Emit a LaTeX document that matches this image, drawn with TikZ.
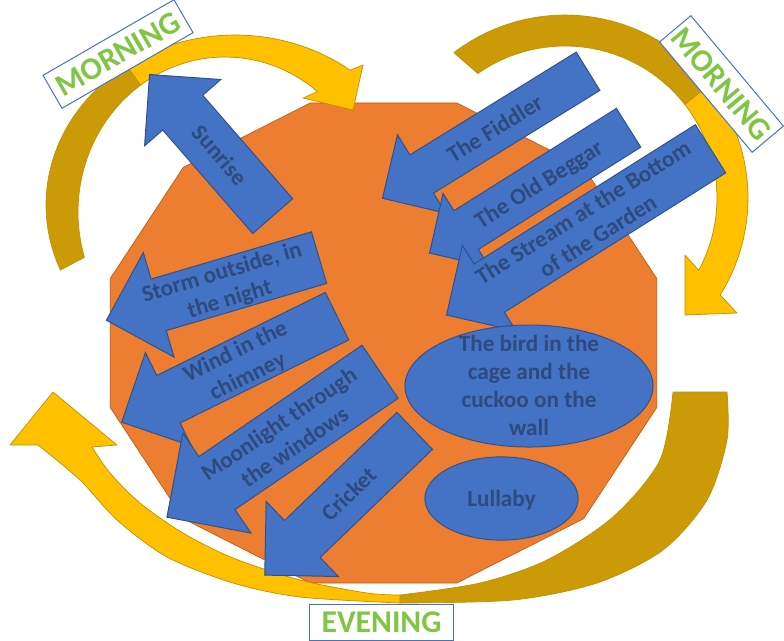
\documentclass[tikz,border=0pt]{standalone}
\usepackage{fontspec}
\setmainfont{Carlito}[BoldFont={Carlito Bold}]
\usetikzlibrary{shapes.arrows, shapes.geometric}

\definecolor{faceorange}{HTML}{ED7D31}
\definecolor{faceline}{HTML}{C55A11}
\definecolor{arrowblue}{HTML}{4472C4}
\definecolor{arrowline}{HTML}{2F528F}
\definecolor{arrowtext}{HTML}{2E4A7E}
\definecolor{sungold}{HTML}{FFC000}
\definecolor{sundark}{HTML}{CC9A06}
\definecolor{sunline}{HTML}{BF9000}
\definecolor{timegreen}{HTML}{80C644}

\newcommand\shapefont{\fontsize{16.5}{19.8}\selectfont\bfseries}
\newcommand\timefont{\fontsize{22.5}{27}\selectfont\bfseries}
\newcommand\tcell[1]{\smash{\makebox[0pt]{\raisebox{-.35em}{\begin{tabular}{@{}c@{}}#1\end{tabular}}}}}

\begin{document}
\begin{tikzpicture}[x=0.025cm, y=-0.025cm]
\tikzset{
    band/.style={draw=sunline, line width=0.5pt, line join=round},
    barrow/.style={single arrow, shape border rotate=180, draw=arrowline, fill=arrowblue,
        line width=0.7pt, text=arrowtext, font=\shapefont, inner xsep=0pt,
        minimum width=0pt, anchor=tail},
    blob/.style={ellipse, draw=arrowline, fill=arrowblue, line width=0.7pt,
        text=arrowtext, font=\shapefont, inner sep=0pt},
    timebox/.style={draw=arrowblue, fill=white, line width=0.7pt,
        text=timegreen, font=\timefont, inner sep=0pt}
}
\useasboundingbox (0,0) rectangle (784,640);

% Clock face
\filldraw[fill=faceorange, draw=faceline, line width=0.5pt]
    ({383.5+283*cos(15)},{343-248.5*sin(15)})
    \foreach \a in {45,75,...,345}{ -- ({383.5+283*cos(\a)},{343-248.5*sin(\a)}) } -- cycle;

% Morning, left
\filldraw[band, fill=sundark]
    plot[domain=202.5:125, samples=30, variable=\t] ({235+189*cos(\t)},{205-170*sin(\t)})
    -- plot[domain=125:197, samples=30, variable=\t] ({225+147*cos(\t)},{212-155*sin(\t)}) -- cycle;
\filldraw[band, fill=sungold]
    plot[domain=125:52.5, samples=30, variable=\t] ({235+189*cos(\t)},{205-170*sin(\t)})
    -- (363,65) -- (353,110) -- (303,98)
    -- plot[domain=51:125, samples=30, variable=\t] ({225+147*cos(\t)},{212-155*sin(\t)}) -- cycle;

% Morning, right
\filldraw[band, fill=sundark]
    plot[domain=127.4:38, samples=30, variable=\t] ({565+183*cos(\t)},{198-183*sin(\t)})
    -- plot[domain=38:125, samples=30, variable=\t] ({565+152*cos(\t)},{198-152*sin(\t)}) -- cycle;
\filldraw[band, fill=sungold]
    plot[domain=38:-32, samples=30, variable=\t] ({565+183*cos(\t)},{198-183*sin(\t)})
    -- (737,313) -- (685,315) -- (685,255)
    -- plot[domain=-28.4:38, samples=30, variable=\t] ({565+152*cos(\t)},{198-152*sin(\t)}) -- cycle;

% Evening
\filldraw[band, fill=sundark]
    plot[smooth] coordinates {(727,392) (727,440) (707,500) (663,550) (597,583) (513,600) (400,603)}
    -- plot[smooth] coordinates {(400,595) (480,583) (547,560) (613,517) (660,460) (673,392)} -- cycle;
\filldraw[band, fill=sungold]
    plot[smooth] coordinates {(400,603) (300,597) (233,583) (167,557) (117,520) (80,480) (38,445)}
    -- (10,445) -- (53,392) -- (117,445)
    -- plot[smooth] coordinates {(92,447) (110,473) (140,503) (183,533) (233,558) (300,580) (367,593) (400,595)} -- cycle;

% Night side
\node[barrow, rotate=-49, minimum height=4.69cm, inner ysep=0.65cm,
    single arrow head extend=0.6cm] (sunrise) at (273,216.5) {\tcell{Sunrise}};
\node[barrow, rotate=16.4, minimum height=5.54cm, inner ysep=0.66cm,
    single arrow head extend=0.69cm] (storm) at (319.5,257.5) {\tcell{Storm outside, in\\the night}};
\node[barrow, rotate=26.2, minimum height=6cm, inner ysep=0.65cm,
    single arrow head extend=0.64cm] (wind) at (337.5,316) {\tcell{Wind in the\\chimney}};
\node[barrow, rotate=34.3, minimum height=6.45cm, inner ysep=0.79cm,
    single arrow head extend=0.71cm] (moonlight) at (380.5,371.5) {\tcell{Moonlight through\\the windows}};
\node[barrow, rotate=43.9, minimum height=5.2cm, inner ysep=0.63cm,
    single arrow head extend=0.66cm] (cricket) at (415,430.5) {\tcell{Cricket}};

% Day side
\node[barrow, rotate=31.7, minimum height=6.04cm, inner ysep=0.55cm,
    single arrow head extend=0.59cm] (fiddler) at (588.5,71) {\tcell{The Fiddler}};
\node[barrow, rotate=32.2, minimum height=5.88cm, inner ysep=0.56cm,
    single arrow head extend=0.51cm] (beggar) at (629,127.5) {\tcell{The Old Beggar}};
\node[barrow, rotate=32.2, minimum height=7.8cm, inner ysep=0.7cm,
    single arrow head extend=0.55cm] (stream) at (711,148.5) {\tcell{The Stream at the Bottom\\of the Garden}};

\node[blob, minimum width=6.2cm, minimum height=3.05cm] (bird) at (529,386)
    {\tcell{The bird in the\\cage and the\\cuckoo on the\\wall}};
\node[blob, minimum width=3.83cm, minimum height=2.08cm] (lullaby) at (501.5,498.5) {\tcell{Lullaby}};

% Labels
\node[timebox, rotate=30, minimum width=3.78cm, minimum height=0.95cm] (morningL) at (118,54) {MORNING};
\node[timebox, rotate=-50, minimum width=3.6cm, minimum height=1.02cm] (morningR) at (721.5,84) {MORNING};
\node[timebox, minimum width=3.58cm, minimum height=0.9cm] (evening) at (381.5,622) {EVENING};
\end{tikzpicture}
\end{document}
